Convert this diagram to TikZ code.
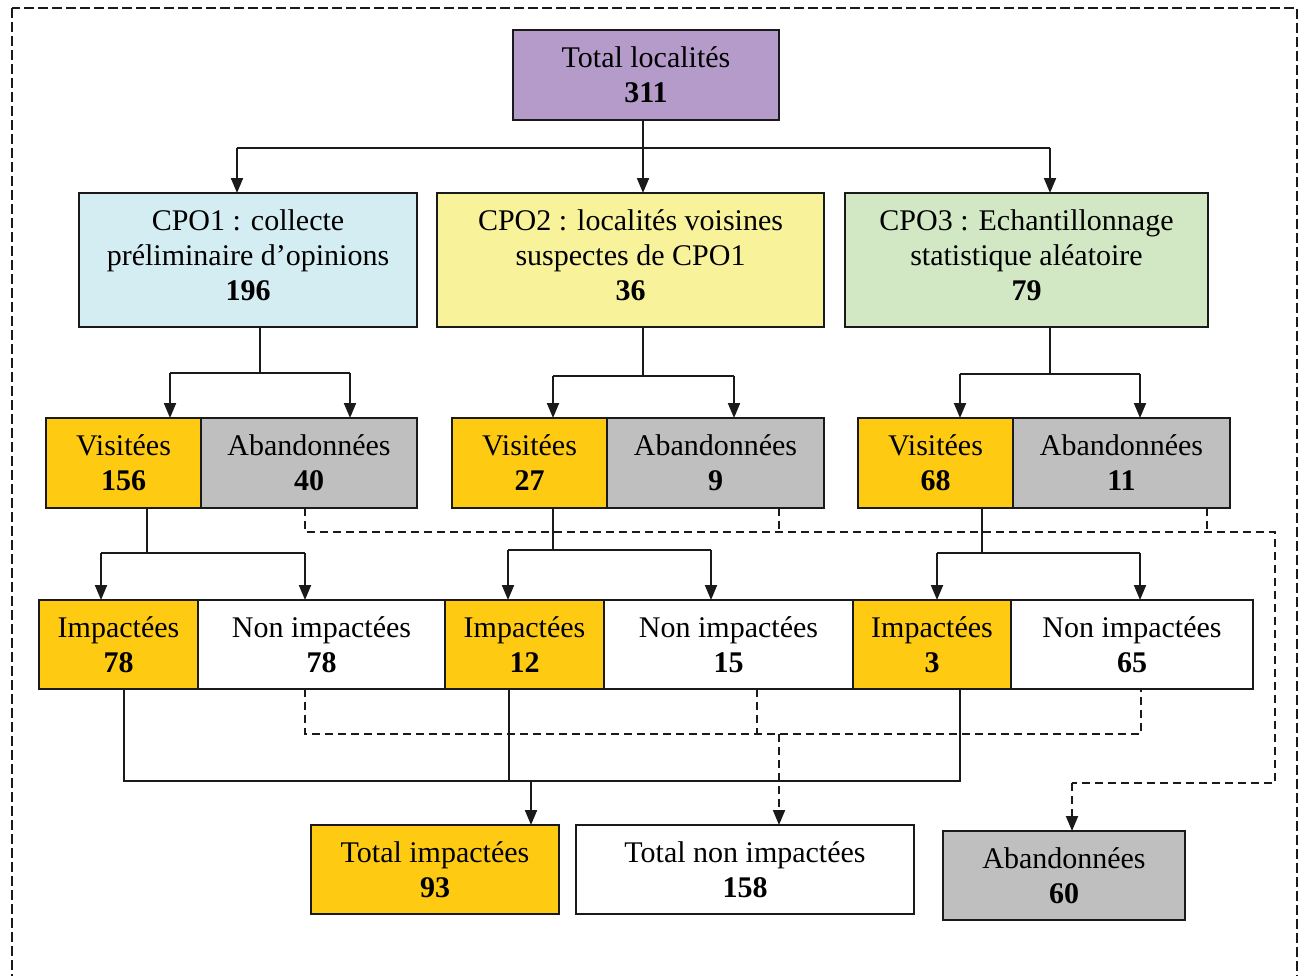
\documentclass[tikz,border=0pt]{standalone}
\usepackage{fontspec}
\setmainfont{Liberation Serif}
\usetikzlibrary{arrows.meta,positioning,calc}
\definecolor{Line}{HTML}{1A1A1A}
\definecolor{Root}{HTML}{B59BC9}
\definecolor{Cpoa}{HTML}{D3EDF3}
\definecolor{Cpob}{HTML}{F8F29B}
\definecolor{Cpoc}{HTML}{D2E8C4}
\definecolor{Visit}{HTML}{FECB12}
\definecolor{Aband}{HTML}{BFBFBF}

\begin{document}
\begin{tikzpicture}[
 x=0.5pt,y=-0.5pt,
 font=\fontsize{15}{17.5}\selectfont,
 bx/.style={draw=Line,line width=1pt,inner sep=0pt,outer sep=0pt,align=center},
 top/.style={bx,anchor=north west,minimum height=45pt},
 cpo/.style={bx,anchor=north west,minimum height=67pt,text depth=5pt},
 duo/.style={bx,anchor=north west,minimum height=45pt},
 row/.style={bx,minimum height=44.5pt},
 ln/.style={line width=1pt,draw=Line},
 a/.style={ln,-{Triangle[length=7.5pt,width=6pt]}},
 da/.style={ln,dash pattern=on 4pt off 2.5pt},
 frame/.style={draw=Line,line width=0.7pt,dash pattern=on 5pt off 2pt}
]
\useasboundingbox (0,0) rectangle (1299,975);
\draw[frame] (12,8) rectangle (1297,995);

\node[top,fill=Root,minimum width=133pt] (tot) at (513,30) {Total localités\\\textbf{311}};

\node[cpo,fill=Cpoa,minimum width=169pt] (c1) at (79,193) {CPO1 : collecte\\préliminaire d’opinions\\\textbf{196}};
\node[cpo,fill=Cpob,minimum width=193.5pt] (c2) at (437,193) {CPO2 : localités voisines\\suspectes de CPO1\\\textbf{36}};
\node[cpo,fill=Cpoc,minimum width=181.5pt] (c3) at (845,193) {CPO3 : Echantillonnage\\statistique aléatoire\\\textbf{79}};

\node[duo,fill=Visit,minimum width=77.5pt] (v1) at (46,418) {Visitées\\\textbf{156}};
\node[duo,fill=Aband,minimum width=108pt,anchor=west,right=0pt of v1] (a1) {Abandonnées\\\textbf{40}};
\node[duo,fill=Visit,minimum width=77.5pt] (v2) at (452,418) {Visitées\\\textbf{27}};
\node[duo,fill=Aband,minimum width=108.5pt,anchor=west,right=0pt of v2] (a2) {Abandonnées\\\textbf{9}};
\node[duo,fill=Visit,minimum width=77.5pt] (v3) at (858,418) {Visitées\\\textbf{68}};
\node[duo,fill=Aband,minimum width=108.5pt,anchor=west,right=0pt of v3] (a3) {Abandonnées\\\textbf{11}};

\node[row,fill=Visit,minimum width=79.5pt,anchor=north west] (i1) at (39,600) {Impactées\\\textbf{78}};
\node[row,fill=white,minimum width=123.5pt,right=0pt of i1] (n1) {Non impactées\\\textbf{78}};
\node[row,fill=Visit,minimum width=79.5pt,right=0pt of n1] (i2) {Impactées\\\textbf{12}};
\node[row,fill=white,minimum width=124.5pt,right=0pt of i2] (n2) {Non impactées\\\textbf{15}};
\node[row,fill=Visit,minimum width=79pt,right=0pt of n2] (i3) {Impactées\\\textbf{3}};
\node[row,fill=white,minimum width=121pt,right=0pt of i3] (n3) {Non impactées\\\textbf{65}};

\node[row,fill=Visit,minimum width=124pt,anchor=north west] (ti) at (311,825) {Total impactées\\\textbf{93}};
\node[row,fill=white,minimum width=169pt,anchor=north west] (tn) at (576,825) {Total non impactées\\\textbf{158}};
\node[row,fill=Aband,minimum width=121pt,anchor=north west] (ta) at (943,831) {Abandonnées\\\textbf{60}};

% root -> CPO
\coordinate (r0) at (643,148);
\coordinate (rl) at (237,148);
\coordinate (rr) at (1050,148);
\draw[ln] (r0 |- tot.south) -- (r0);
\draw[ln] (rl) -- (rr);
\draw[a] (rl) -- (rl |- c1.north);
\draw[a] (r0) -- (r0 |- c2.north);
\draw[a] (rr) -- (rr |- c3.north);

% CPO -> visitees / abandonnees
\foreach \c/\v/\ab/\s/\l/\r/\h in {c1/v1/a1/260/170/350/373, c2/v2/a2/643/553/734/376, c3/v3/a3/1050/960/1140/374}{
  \draw[ln] (\s,0 |- \c.south) -- (\s,\h);
  \draw[ln] (\l,\h) -- (\r,\h);
  \draw[a] (\l,\h) -- (\l,0 |- \v.north);
  \draw[a] (\r,\h) -- (\r,0 |- \ab.north);
}

% visitees -> impactees / non impactees
\foreach \v/\i/\n/\s/\l/\r/\h in {v1/i1/n1/147/101/305/553, v2/i2/n2/553/508/711/550, v3/i3/n3/982/937/1140/553}{
  \draw[ln] (\s,0 |- \v.south) -- (\s,\h);
  \draw[ln] (\l,\h) -- (\r,\h);
  \draw[a] (\l,\h) -- (\l,0 |- \i.north);
  \draw[a] (\r,\h) -- (\r,0 |- \n.north);
}

% abandonnees -> total abandonnees
\coordinate (ab1) at (305,532);
\coordinate (ab2) at (1275,532);
\coordinate (ab3) at (1072,783);
\draw[da] (ab1 |- a1.south) -- (ab1) -- (ab2) |- (ab3);
\draw[da] (779,0 |- a2.south) -- (779,532);
\draw[da] (1207,0 |- a3.south) -- (1207,532);
\draw[da,-{Triangle[length=7.5pt,width=6pt]}] (ab3) -- (ab3 |- ta.north);

% impactees -> total impactees
\coordinate (im1) at (124,781);
\coordinate (im2) at (960,781);
\coordinate (im0) at (531,781);
\draw[ln] (im1 |- i1.south) -- (im1) -- (im2) -- (im2 |- i3.south);
\draw[ln] (509,0 |- i2.south) -- (509,781);
\draw[a] (im0) -- (im0 |- ti.north);

% non impactees -> total non impactees
\coordinate (nm1) at (305,734);
\coordinate (nm2) at (1141,734);
\coordinate (nm0) at (779,734);
\draw[da] (nm1 |- n1.south) -- (nm1) -- (nm2) -- (nm2 |- n3.south);
\draw[da] (757,0 |- n2.south) -- (757,734);
\draw[da,-{Triangle[length=7.5pt,width=6pt]}] (nm0) -- (nm0 |- tn.north);
\end{tikzpicture}
\end{document}
